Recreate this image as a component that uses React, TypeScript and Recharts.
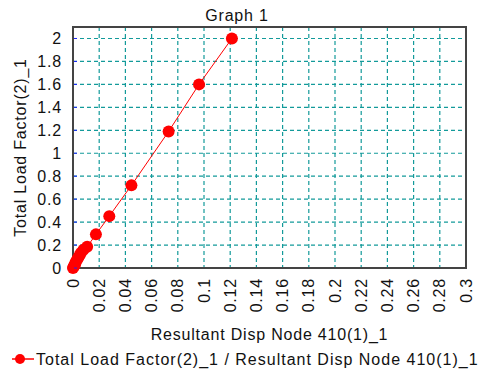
import React from "react";
import {
  LineChart,
  Line,
  XAxis,
  YAxis,
  CartesianGrid,
  ReferenceArea,
  Legend,
} from "recharts";

const dispValues = [0, 0.0005, 0.001, 0.0015, 0.002, 0.003, 0.004, 0.005, 0.006, 0.008, 0.0108, 0.0175, 0.0277, 0.0446, 0.073, 0.0962, 0.1213];
const loadValues = [0, 0.01, 0.02, 0.03, 0.05, 0.07, 0.09, 0.11, 0.13, 0.16, 0.185, 0.293, 0.452, 0.72, 1.19, 1.6, 2.0];
const xTicks = [0, 0.02, 0.04, 0.06, 0.08, 0.1, 0.12, 0.14, 0.16, 0.18, 0.2, 0.22, 0.24, 0.26, 0.28, 0.3];
const yTicks = [0, 0.2, 0.4, 0.6, 0.8, 1, 1.2, 1.4, 1.6, 1.8, 2];
const seriesName = "Total Load Factor(2)_1 / Resultant Disp Node 410(1)_1";

const data = dispValues.map((x, i) => ({ x, y: loadValues[i] }));

const FONT = "'Liberation Sans', Arial, sans-serif";
const FS = 16;
const LS = 0.8;
const RED = "#ff0000";
const TEAL = "#139a9a";

const XTick = (props: any) => {
  const { x, y, payload } = props;
  return (
    <g>
      <text
        x={x}
        y={y + 2}
        transform={`rotate(-90, ${x}, ${y + 2})`}
        textAnchor="end"
        dy="0.35em"
        fontSize={FS}
        letterSpacing={LS}
        fontFamily={FONT}
        fill="#111"
      >
        {String(payload.value)}
      </text>
    </g>
  );
};

const YTick = (props: any) => {
  const { x, y, payload } = props;
  return (
    <g>
      <line x1={x + 9} y1={y} x2={x + 12} y2={y} stroke="#2020ff" />
      <text x={x - 3} y={y} textAnchor="end" dy="0.35em" fontSize={FS} letterSpacing={LS} fontFamily={FONT} fill="#111">
        {String(payload.value)}
      </text>
    </g>
  );
};

const LegendContent = () => (
  <svg width={478} height={22}>
    <line x1={4} y1={11} x2={26} y2={11} stroke={RED} strokeWidth={1.5} />
    <circle cx={12} cy={11} r={5} fill={RED} />
    <text x={28} y={11} dy="0.35em" fontSize={FS} letterSpacing={1.0} fontFamily={FONT} fill="#111">
      {seriesName}
    </text>
  </svg>
);

export default function App() {
  return (
    <div style={{ width: 478, height: 361, background: "#fff" }}>
      <LineChart width={478} height={361} data={data} margin={{ top: 19, right: 20, bottom: 0, left: 0 }}>
        <text x={229} y={7} textAnchor="middle" dy="0.35em" fontSize={FS} letterSpacing={LS} fontFamily={FONT} fill="#111">
          Graph 1
        </text>
        <CartesianGrid stroke={TEAL} strokeDasharray="4 3" strokeWidth={1.2} />
        <ReferenceArea x1={0} x2={0.3} y1={0} y2={2.1} fill="none" stroke="#444" strokeWidth={2} ifOverflow="visible" />
        <XAxis
          type="number"
          dataKey="x"
          domain={[0, 0.3]}
          ticks={xTicks}
          interval={0}
          tick={<XTick />}
          tickLine={false}
          axisLine={{ stroke: "#444", strokeWidth: 2 }}
          height={80}
          label={{ value: "Resultant Disp Node 410(1)_1", position: "insideBottom", offset: 8, fontSize: FS, letterSpacing: LS, fontFamily: FONT, fill: "#111" }}
        />
        <YAxis
          type="number"
          domain={[0, 2.1]}
          ticks={yTicks}
          interval={0}
          tick={<YTick />}
          tickLine={false}
          axisLine={{ stroke: "#444", strokeWidth: 2 }}
          width={65}
          label={{ value: "Total Load Factor(2)_1", angle: -90, position: "insideLeft", offset: 12, fontSize: FS, letterSpacing: LS, fontFamily: FONT, fill: "#111", style: { textAnchor: "middle" } }}
        />
        <Legend verticalAlign="bottom" height={21} content={<LegendContent />} />
        <Line
          dataKey="y"
          name={seriesName}
          stroke={RED}
          strokeWidth={1}
          dot={{ r: 6, fill: RED, stroke: RED, strokeWidth: 0 }}
          isAnimationActive={false}
        />
      </LineChart>
    </div>
  );
}
